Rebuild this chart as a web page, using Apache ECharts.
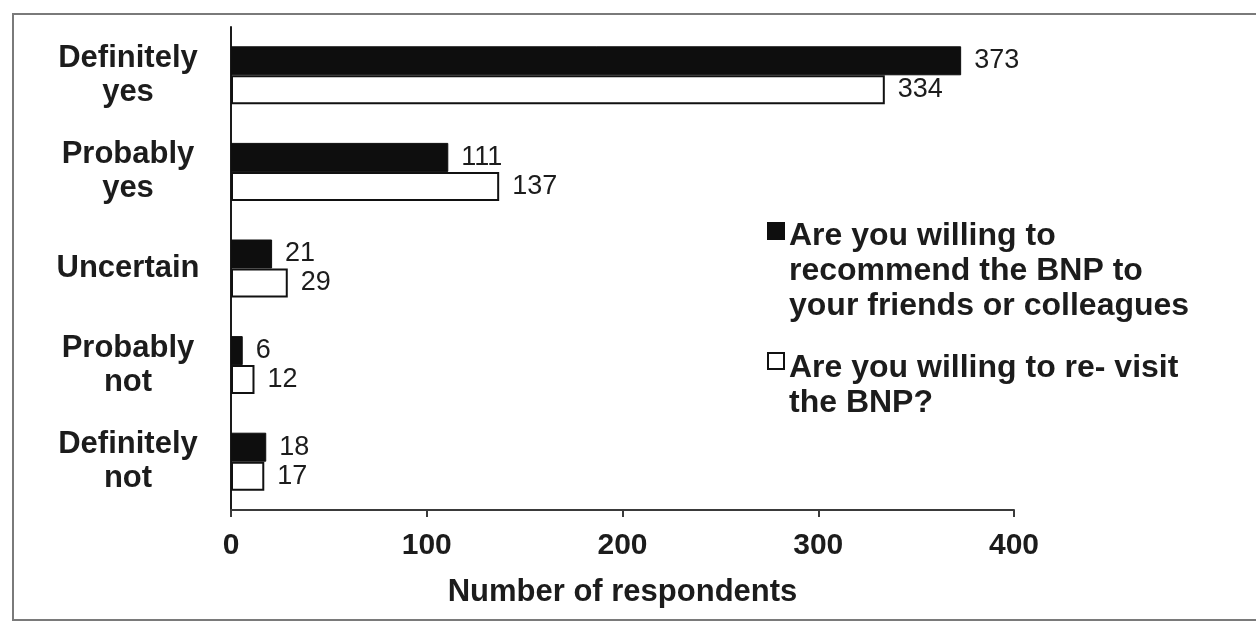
<!DOCTYPE html>
<html>
<head>
<meta charset="utf-8">
<title>Willingness to recommend and re-visit the BNP</title>
<script src="https://cdn.jsdelivr.net/npm/echarts@6/dist/echarts.min.js"></script>
<style>
  html, body { margin: 0; padding: 0; background: #ffffff; }
  #chart { width: 1256px; height: 628px; }
</style>
</head>
<body>
<div id="chart"></div>
<script>
// Response categories, top to bottom
const categories = ['Definitely\nyes', 'Probably\nyes', 'Uncertain', 'Probably\nnot', 'Definitely\nnot'];

// Number of respondents per answer
const recommendValues = [373, 111, 21, 6, 18];
const revisitValues = [334, 137, 29, 12, 17];

const recommendName = 'Are you willing to\nrecommend the BNP to\nyour friends or colleagues';
const revisitName = 'Are you willing to re- visit\nthe BNP?';

const xTicks = [0, 100, 200, 300, 400];

const FONT = "'Liberation Sans', Arial, Helvetica, sans-serif";
const INK = '#1c1c1c';
const LEGEND_LH = 35;

// Legend marker: a square sitting beside the first text line of a
// multi-line entry. The two zero-length segments stretch the path's
// bounds to the full height of the text block.
function markerBeside(lines, squareTop) {
  const h = lines * LEGEND_LH;
  return 'path://M0,0L0,0M0,' + squareTop + 'L16,' + squareTop + 'L16,' + (squareTop + 16) +
    'L0,' + (squareTop + 16) + 'ZM0,' + h + 'L0,' + h;
}

const chart = echarts.init(document.getElementById('chart'), null, { renderer: 'canvas' });

const valueLabel = {
  show: true,
  position: 'right',
  distance: 13,
  color: INK,
  fontFamily: FONT,
  fontSize: 27
};

const legendBase = {
  orient: 'vertical',
  left: 767,
  padding: 0,
  itemWidth: 16,
  itemGap: 0,
  textStyle: {
    color: INK,
    fontFamily: FONT,
    fontWeight: 'bold',
    fontSize: 32,
    lineHeight: LEGEND_LH
  }
};

chart.setOption({
  animation: false,
  backgroundColor: '#ffffff',
  graphic: [{
    type: 'rect',
    silent: true,
    z: -1,
    shape: { x: 13, y: 14, width: 1260, height: 606 },
    style: { fill: 'none', stroke: '#7a7a7a', lineWidth: 2 }
  }],
  grid: { left: 231, right: 242, top: 27, bottom: 118, containLabel: false },
  legend: [Object.assign({}, legendBase, {
    top: 218,
    itemHeight: 3 * LEGEND_LH,
    icon: markerBeside(3, 4),
    data: [recommendName]
  }), Object.assign({}, legendBase, {
    top: 350,
    itemHeight: 2 * LEGEND_LH,
    icon: markerBeside(2, 2),
    data: [revisitName]
  })],
  xAxis: {
    type: 'value',
    min: xTicks[0],
    max: xTicks[xTicks.length - 1],
    interval: 100,
    name: 'Number of respondents',
    nameLocation: 'middle',
    nameGap: 67,
    nameTextStyle: { color: INK, fontFamily: FONT, fontWeight: 'bold', fontSize: 31 },
    axisLine: { show: true, lineStyle: { color: '#3a3a3a', width: 2 } },
    axisTick: { show: true, inside: false, length: 7, lineStyle: { color: '#3a3a3a', width: 2 } },
    axisLabel: { margin: 21, color: INK, fontFamily: FONT, fontWeight: 'bold', fontSize: 30 },
    splitLine: { show: false }
  },
  yAxis: {
    type: 'category',
    inverse: true,
    data: categories,
    axisLine: { show: true, lineStyle: { color: '#1a1a1a', width: 2 } },
    axisTick: { show: false },
    axisLabel: {
      margin: 103,
      align: 'center',
      color: INK,
      fontFamily: FONT,
      fontWeight: 'bold',
      fontSize: 31,
      lineHeight: 34
    }
  },
  series: [{
    name: recommendName,
    type: 'bar',
    data: recommendValues,
    barWidth: 29,
    barGap: '0%',
    itemStyle: { color: '#0e0e0e', borderColor: '#0e0e0e', borderWidth: 1 },
    label: valueLabel
  }, {
    name: revisitName,
    type: 'bar',
    data: revisitValues,
    barWidth: 29,
    barGap: '0%',
    itemStyle: { color: '#ffffff', borderColor: '#111111', borderWidth: 2 },
    label: valueLabel
  }]
});
</script>
</body>
</html>
